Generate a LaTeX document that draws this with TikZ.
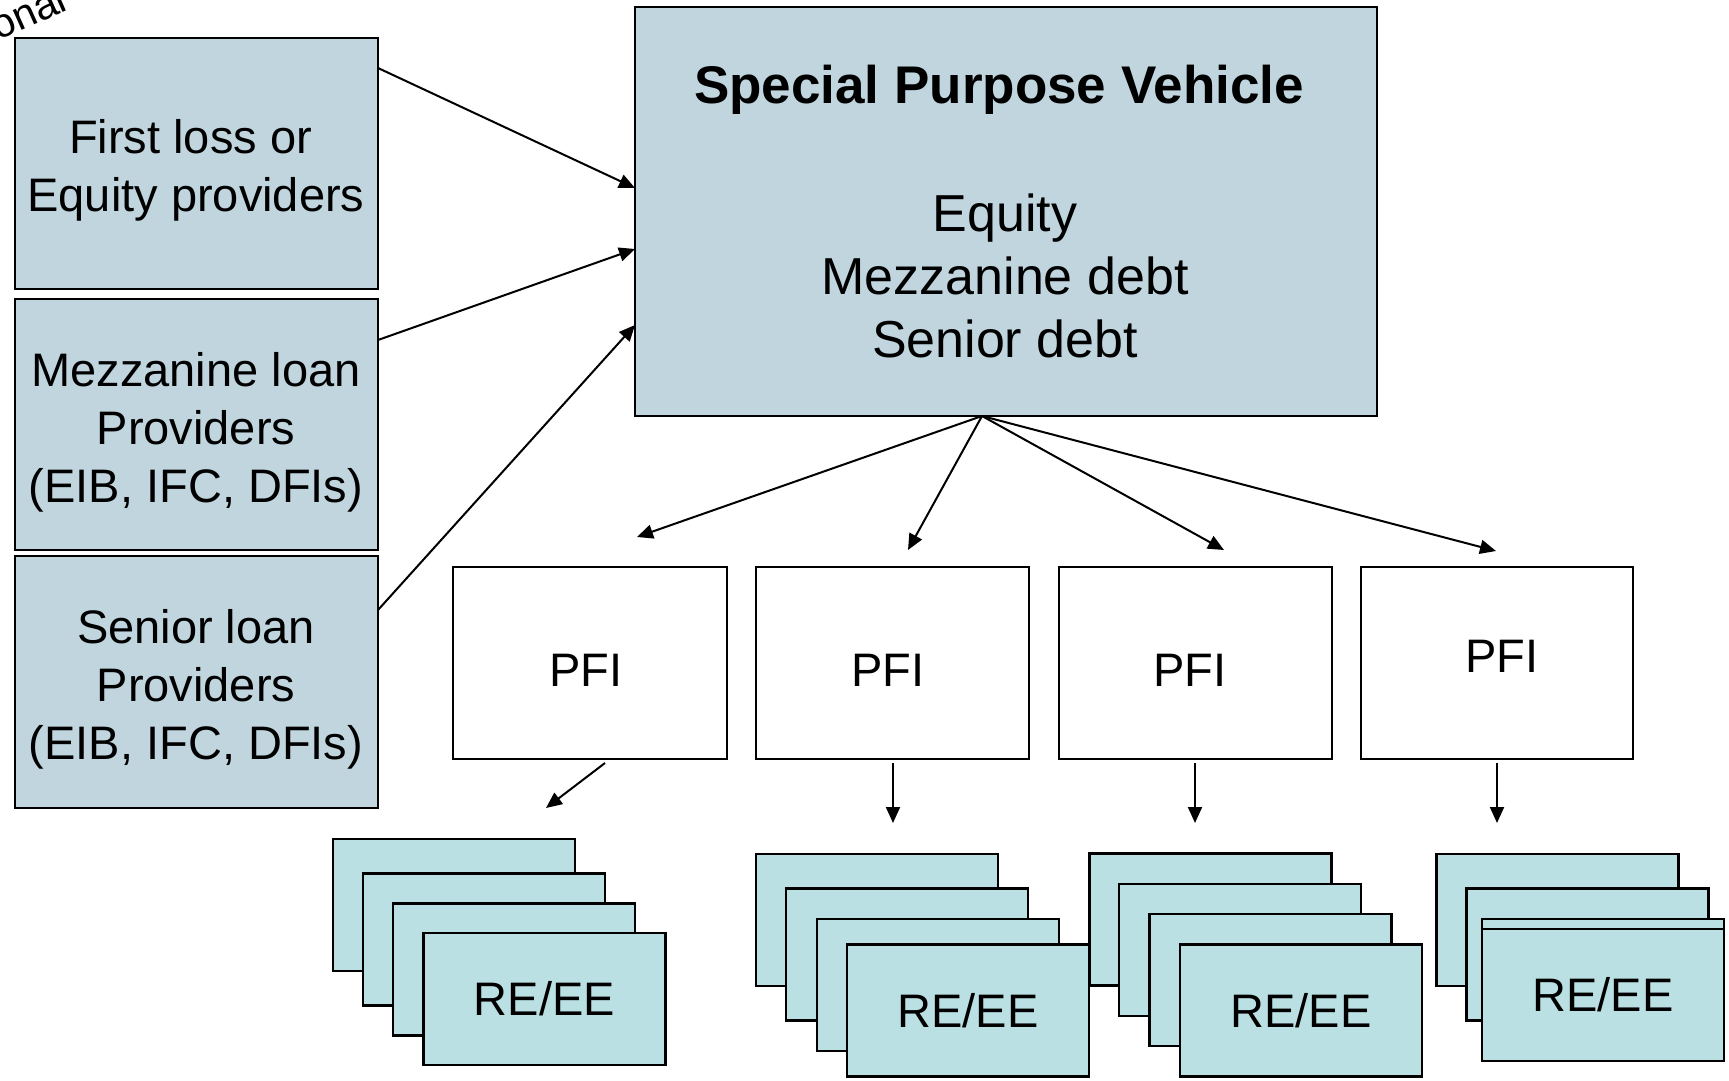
\documentclass[tikz,border=0pt]{standalone}
\usepackage{fontspec}
\setmainfont{Liberation Sans}
\usetikzlibrary{arrows.meta}
\definecolor{boxblue}{RGB}{192,213,222}
\definecolor{recyan}{RGB}{186,224,227}
\begin{document}
\begin{tikzpicture}[x=0.5pt,y=-0.5pt,
  sz/.style 2 args={minimum width=#1*0.5pt,minimum height=#2*0.5pt},
  bluebox/.style={draw=black,line width=1.25pt,fill=boxblue,inner sep=0pt},
  pfibox/.style={draw=black,line width=1.25pt,fill=white,inner sep=0pt},
  rebox/.style={draw=black,line width=1.25pt,fill=recyan,inner sep=0pt,sz={242}{132},font=\fontsize{23.5}{28}\selectfont},
  txt/.style={inner sep=0pt,align=center,font=\fontsize{23.5}{29}\selectfont},
  spvtxt/.style={inner sep=0pt,align=center,font=\fontsize{26}{31.5}\selectfont},
  conn/.style={line width=1pt,-{Triangle[length=8pt,width=7pt]}}]
\useasboundingbox (0,0) rectangle (1729,1081);
\clip (0,0) rectangle (1729,1081);

% partial rotated text at top left (cut off by the edge)
\node[inner sep=0pt,font=\fontsize{20.5}{24}\selectfont,anchor=base west,rotate=24] (ona) at (-2,41) {onal};

% left provider boxes
\node[bluebox,sz={363}{251}] (L1) at (196.5,163.5) {};
\node[bluebox,sz={363}{251}] (L2) at (196.5,424.5) {};
\node[bluebox,sz={363}{252}] (L3) at (196.5,682) {};
\node[txt] (L1t) at (196,170.5) {First loss or\kern5.5pt\\Equity providers};
\node[txt] (L2t) at (196,432) {Mezzanine loan\\Providers\\(EIB, IFC, DFIs)};
\node[txt] (L3t) at (196,689) {Senior loan\\Providers\\(EIB, IFC, DFIs)};

% special purpose vehicle
\node[bluebox,sz={742}{409}] (spv) at (1006,211.5) {};
\node[spvtxt,font=\fontsize{26.5}{31.5}\selectfont\bfseries] (spvtitle) at (999,90) {Special Purpose Vehicle};
\node[spvtxt] (spvbody) at (1005,276) {Equity\\Mezzanine debt\\Senior debt};

% arrows into SPV
\coordinate (l1s) at (378,68);  \coordinate (l1e) at (635,188);
\coordinate (l2s) at (378,340); \coordinate (l2e) at (635,249);
\coordinate (l3s) at (378,610); \coordinate (l3e) at (635,325);
\draw[conn] (l1s) -- (l1e);
\draw[conn] (l2s) -- (l2e);
\draw[conn] (l3s) -- (l3e);

% PFI boxes
\node[pfibox,sz={274}{192}] (P1) at (590,663) {};
\node[pfibox,sz={273}{192}] (P2) at (892.5,663) {};
\node[pfibox,sz={273}{192}] (P3) at (1195.5,663) {};
\node[pfibox,sz={272}{192}] (P4) at (1497,663) {};
\node[txt] (P1t) at (586,670) {PFI};
\node[txt] (P2t) at (888,670) {PFI};
\node[txt] (P3t) at (1190,670) {PFI};
\node[txt] (P4t) at (1502,656) {PFI};

% arrows from SPV to PFIs
\coordinate (spvb) at (982,416);
\coordinate (p1e) at (637,537);
\coordinate (p2e) at (908,550);
\coordinate (p3e) at (1224,550);
\coordinate (p4e) at (1496,551);
\draw[conn] (spvb) -- (p1e);
\draw[conn] (spvb) -- (p2e);
\draw[conn] (spvb) -- (p3e);
\draw[conn] (spvb) -- (p4e);

% arrows from PFIs to RE/EE stacks
\coordinate (q1s) at (605,763);  \coordinate (q1e) at (546,808);
\coordinate (q2s) at (893,763);  \coordinate (q2e) at (893,823);
\coordinate (q3s) at (1195,763); \coordinate (q3e) at (1195,823);
\coordinate (q4s) at (1497,763); \coordinate (q4e) at (1497,823);
\draw[conn] (q1s) -- (q1e);
\draw[conn] (q2s) -- (q2e);
\draw[conn] (q3s) -- (q3e);
\draw[conn] (q4s) -- (q4e);

% RE/EE stacks
\node[rebox] (s1a) at (454,905) {};
\node[rebox] (s1b) at (484,939.5) {};
\node[rebox] (s1c) at (514,969.5) {};
\node[rebox] (s1d) at (544.5,999) {RE/EE};

\node[rebox] (s2a) at (877,920) {};
\node[rebox] (s2b) at (907,954.5) {};
\node[rebox] (s2c) at (938,985) {};
\node[rebox] (s2d) at (968,1010.5) {RE/EE};

\node[rebox] (s3a) at (1210.5,919.5) {};
\node[rebox] (s3b) at (1240,950) {};
\node[rebox] (s3c) at (1270.5,980) {};
\node[rebox] (s3d) at (1301,1010.5) {RE/EE};

\node[rebox] (s4a) at (1557.5,920) {};
\node[rebox] (s4b) at (1587.5,954.5) {};
\node[rebox] (s4c) at (1603,985) {};
\node[rebox] (s4d) at (1603,995) {RE/EE};
\end{tikzpicture}
\end{document}
